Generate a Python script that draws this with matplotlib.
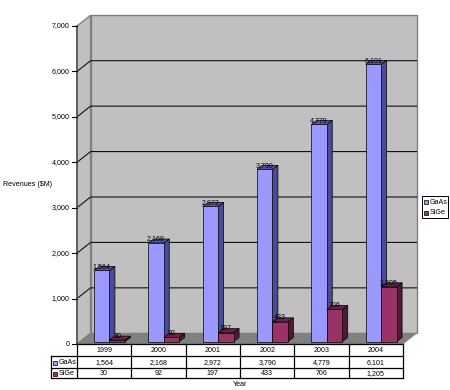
import matplotlib
matplotlib.use("Agg")
import matplotlib.pyplot as plt
from matplotlib.patches import Rectangle
from matplotlib.transforms import blended_transform_factory

plt.rcParams["font.family"] = ["Liberation Sans", "DejaVu Sans"]

years = ["1999", "2000", "2001", "2002", "2003", "2004"]
gaas = [1564, 2168, 2972, 3790, 4779, 6101]
sige = [30, 92, 197, 433, 706, 1205]
gaas_labels = ["1,564", "2,168", "2,972", "3,790", "4,779", "6,101"]
sige_labels = ["30", "92", "197", "433", "706", "1,205"]
y_ticks = [0, 1000, 2000, 3000, 4000, 5000, 6000, 7000]

FS = 5.1
W, H = 450, 390

# 3d look, in data units
wall_dx, wall_dy = 0.25, 236
bar_w = 0.285
bar_start = 0.313
bar_dx, bar_dy = 0.10, 88
bar_base = 55

GAAS = ("#9999FF", "#4A4A96", "#5555A8")
SIGE = ("#993366", "#4F1A36", "#6E2148")

fig = plt.figure(figsize=(W / 100, H / 100), dpi=100)

# overlay in pixels for table lines and legend
px = fig.add_axes([0, 0, 1, 1], zorder=3)
px.set_xlim(0, W)
px.set_ylim(H, 0)
px.axis("off")
px.patch.set_alpha(0)

ax = fig.add_axes([77 / W, (H - 344) / H, 326 / W, 318 / H], zorder=2)
ax.set_xlim(0, 6)
ax.set_ylim(0, 7000)
ax.axis("off")
ax.patch.set_alpha(0)


def poly(xs, ys, fc, ec="black", lw=0.5, z=1):
    ax.fill(xs, ys, fc=fc, ec=ec, lw=lw, zorder=z, clip_on=False)


# walls and floor
poly([wall_dx, 6 + wall_dx, 6 + wall_dx, wall_dx],
     [wall_dy, wall_dy, 7000 + wall_dy, 7000 + wall_dy], "#C0C0C0", ec="#808080", lw=1)
poly([0, wall_dx, wall_dx, 0], [0, wall_dy, 7000 + wall_dy, 7000], "#C0C0C0", ec="#808080", lw=1)
poly([0, 6, 6 + wall_dx, wall_dx], [0, 0, wall_dy, wall_dy], "#808080", ec="#808080", lw=0.5)

for v in y_ticks[1:-1]:
    ax.plot([0, wall_dx, 6 + wall_dx], [v, v + wall_dy, v + wall_dy],
            color="#111111", lw=0.8, zorder=2, clip_on=False)

# y axis line, ticks, labels
ax.plot([0, 0], [0, 7000], color="#555555", lw=1.2, zorder=3, clip_on=False)
for v in y_ticks:
    ax.plot([-0.09, 0], [v, v], color="black", lw=0.8, zorder=3, clip_on=False)
    ax.text(-0.14, v, f"{v:,}", ha="right", va="center", fontsize=FS)


def draw_bar(x, v, cols, z):
    front, side, top = cols
    b = bar_base
    t = bar_base + v
    poly([x + bar_w, x + bar_w + bar_dx, x + bar_w + bar_dx, x + bar_w],
         [b, b + bar_dy, t + bar_dy, t], side, z=z)
    poly([x, x + bar_dx, x + bar_w + bar_dx, x + bar_w],
         [t, t + bar_dy, t + bar_dy, t], top, z=z)
    poly([x, x + bar_w, x + bar_w, x], [b, b, t, t], front, z=z)


for i in range(len(years)):
    x1 = i + bar_start
    x2 = x1 + bar_w
    draw_bar(x1, gaas[i], GAAS, 5 + i * 2)
    draw_bar(x2, sige[i], SIGE, 6 + i * 2)
    ax.text(x1 + bar_w / 2, bar_base + gaas[i] + bar_dy, gaas_labels[i],
            ha="center", va="center", fontsize=FS, zorder=30, clip_on=False)
    ax.text(x2 + bar_w / 2, bar_base + sige[i] + bar_dy, sige_labels[i],
            ha="center", va="center", fontsize=FS, zorder=30, clip_on=False)

# data table
trans = blended_transform_factory(ax.transData, px.transData)
row_y = [344, 356, 368, 378]
for y in row_y[1:]:
    px.plot([51, 403], [y, y], color="black", lw=0.9, clip_on=False)
px.plot([77, 403], [344, 344], color="black", lw=0.9, clip_on=False)
px.plot([51, 51], [356, 378], color="black", lw=0.9, clip_on=False)
for i in range(len(years) + 1):
    px.plot([i, i], [344, 378], color="black", lw=0.9, transform=trans, clip_on=False)
for i, yr in enumerate(years):
    px.text(i + 0.5, 350, yr, ha="center", va="center", fontsize=FS, transform=trans)
    px.text(i + 0.5, 362.5, gaas_labels[i], ha="center", va="center", fontsize=FS, transform=trans)
    px.text(i + 0.5, 373.5, sige_labels[i], ha="center", va="center", fontsize=FS, transform=trans)

for y, name, col in [(362.5, "GaAs", GAAS[0]), (373.5, "SiGe", SIGE[0])]:
    px.add_patch(Rectangle((53, y - 2), 4, 4, fc=col, ec="black", lw=0.5))
    px.text(58.5, y, name, ha="left", va="center", fontsize=FS)

# axis titles
px.text(3, 185, "Revenues ($M)", ha="left", va="center", fontsize=FS)
px.text(233, 385, "Year", ha="left", va="center", fontsize=FS)

# legend
px.add_patch(Rectangle((422, 196), 26, 22, fc="white", ec="black", lw=0.7))
for y, name, col in [(202, "GaAs", GAAS[0]), (213, "SiGe", SIGE[0])]:
    px.add_patch(Rectangle((424, y - 2), 4, 4, fc=col, ec="black", lw=0.5))
    px.text(429.5, y, name, ha="left", va="center", fontsize=FS)

fig.savefig("out.png", dpi=100)
plt.close(fig)
